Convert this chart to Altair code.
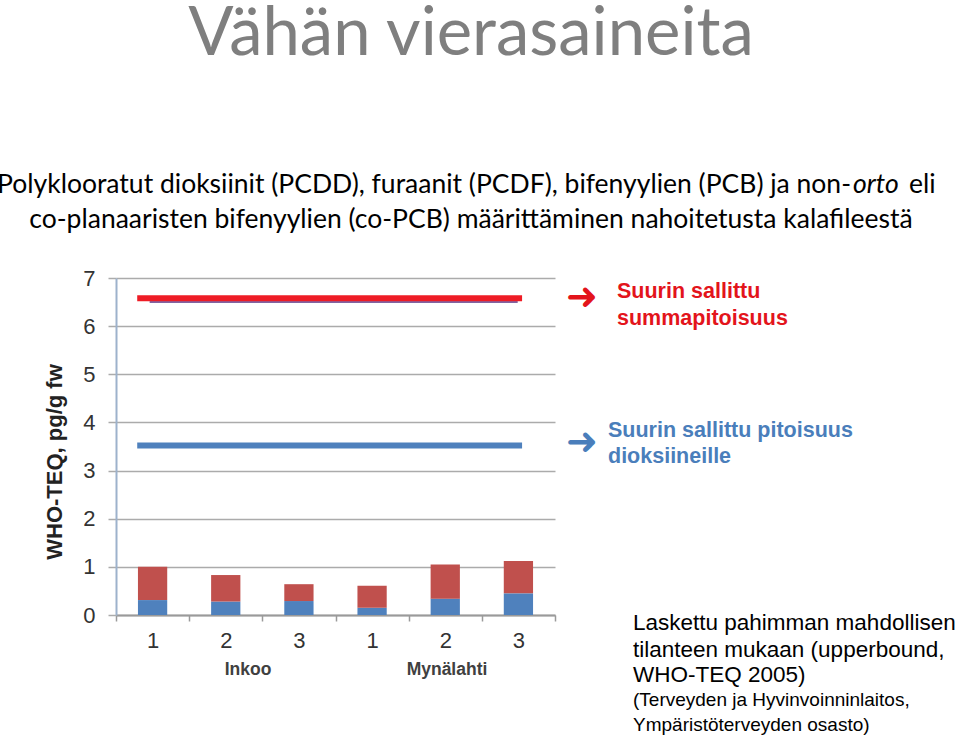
import altair as alt
import pandas as pd

# ---- data ----
categories = ["Inkoo 1", "Inkoo 2", "Inkoo 3", "Mynälahti 1", "Mynälahti 2", "Mynälahti 3"]
dioxins = [0.31, 0.28, 0.29, 0.15, 0.34, 0.45]      # blue (lower) segment
totals = [1.00, 0.83, 0.64, 0.61, 1.05, 1.12]       # top of the stacked bar
sum_limit_marker = 6.58                             # thick red line
sum_limit = 6.5                                     # thin purple line
dioxin_limit = 3.52                                 # thick blue line
y_ticks = [0, 1, 2, 3, 4, 5, 6, 7]

W, H = 439, 337
PAD = {"left": 116, "top": 278, "right": 960 - 116 - W, "bottom": 736 - 278 - H}

bars = pd.DataFrame({
    "cat": categories * 2,
    "part": ["dioksiinit"] * len(categories) + ["muut"] * len(categories),
    "y0": [0.0] * len(categories) + dioxins,
    "y1": dioxins + totals,
})

xscale = alt.Scale(domain=categories, paddingInner=0, paddingOuter=0)
yscale = alt.Scale(domain=[0, 7], nice=False)

xaxis = alt.Axis(labelExpr="substring(datum.label, length(datum.label)-1)",
                 labelAngle=0, tickBand="extent", grid=False, title=None,
                 domainColor="#9a9a9a", domainWidth=2,
                 tickColor="#9a9a9a", tickSize=6, tickWidth=1.5,
                 labelFontSize=22, labelColor="#333333", labelFont="Liberation Sans",
                 labelPadding=9)
yaxis = alt.Axis(values=y_ticks, grid=True, gridColor="#ababab", gridWidth=1.5, title=None,
                 domainColor="#9db2cc", domainWidth=2,
                 tickColor="#ababab", tickSize=8, tickWidth=1.5,
                 labelFontSize=22, labelColor="#333333", labelFont="Liberation Sans",
                 labelPadding=13)

bar_layer = alt.Chart(bars).mark_bar(width=alt.RelativeBandSize(0.4)).encode(
    x=alt.X("cat:N", scale=xscale, sort=categories, axis=xaxis),
    y=alt.Y("y0:Q", scale=yscale, axis=yaxis),
    y2="y1:Q",
    color=alt.Color("part:N", scale=alt.Scale(domain=["dioksiinit", "muut"],
                                              range=["#4f81bd", "#c0504d"]), legend=None),
)


def limit_rule(value, color, width, b0, b1):
    df = pd.DataFrame({"cat": [categories[0]], "end": [categories[-1]], "y0": [value]})
    return alt.Chart(df).mark_rule(color=color, strokeWidth=width).encode(
        x=alt.X("cat:N", scale=xscale, sort=categories, bandPosition=b0, axis=xaxis),
        x2=alt.X2("end:N", bandPosition=b1),
        y=alt.Y("y0:Q", scale=yscale, axis=yaxis),
    )


def txt(s, x, y, size, color="black", font="Liberation Sans", weight="normal",
        align="left", baseline="alphabetic", style="normal", angle=0):
    return alt.Chart(pd.DataFrame({"t": [s]})).mark_text(
        align=align, baseline=baseline, fontSize=size, font=font, fontWeight=weight,
        fontStyle=style, color=color, angle=angle
    ).encode(x=alt.value(x), y=alt.value(y), text="t:N")


RED = "#e3141b"
BLUE = "#4a7ebb"
SUB = 26.5

layers = [
    bar_layer,
    limit_rule(sum_limit, "#8064a2", 2, 0.46, 0.49),
    limit_rule(sum_limit_marker, "#ee1c25", 6, 0.29, 0.55),
    limit_rule(dioxin_limit, "#4f81bd", 6, 0.29, 0.55),
    # titles
    txt("Vähän vierasaineita", 355, -223, 67, color="#7f7f7f", font="Lato", align="center"),
    txt("Polyklooratut dioksiinit (PCDD), furaanit (PCDF), bifenyylien (PCB) ja non-",
        735, -85, SUB, font="Lato", align="right"),
    txt("orto", 737, -85, SUB, font="Lato", style="italic"),
    txt("eli", 793, -85, SUB, font="Lato"),
    txt("co-planaaristen bifenyylien (co-PCB) määrittäminen nahoitetusta kalafileestä",
        355, -50, SUB, font="Lato", align="center"),
    # y axis title
    txt("WHO-TEQ, pg/g fw", -54, 184, 22, color="#222222", weight="bold", align="center", angle=270),
    # group labels
    txt("Inkoo", 132, 397, 17.5, color="#404040", weight="bold", align="center"),
    txt("Mynälahti", 331, 397, 17.5, color="#404040", weight="bold", align="center"),
    # limit annotations
    txt("➜", 466, 20, 38, color=RED, font="DejaVu Sans", align="center", baseline="middle"),
    txt("Suurin sallittu", 501, 20, 21.5, color=RED, weight="bold"),
    txt("summapitoisuus", 501, 47, 21.5, color=RED, weight="bold"),
    txt("➜", 466, 165, 38, color=BLUE, font="DejaVu Sans", align="center", baseline="middle"),
    txt("Suurin sallittu pitoisuus", 492, 159, 21.5, color=BLUE, weight="bold"),
    txt("dioksiineille", 492, 185, 21.5, color=BLUE, weight="bold"),
    # note
    txt("Laskettu pahimman mahdollisen", 517, 352, 22.5),
    txt("tilanteen mukaan (upperbound,", 517, 379, 22.5),
    txt("WHO-TEQ 2005)", 517, 404, 22.5),
    txt("(Terveyden ja Hyvinvoinninlaitos,", 517, 428, 19),
    txt("Ympäristöterveyden osasto)", 517, 453, 19),
]

chart = alt.layer(*layers).properties(
    width=W, height=H, autosize=alt.AutoSizeParams(type="none"), padding=PAD,
    background="white",
).configure_view(stroke=None)

chart.save("out.html", embed_options={"renderer": "svg", "actions": False})
